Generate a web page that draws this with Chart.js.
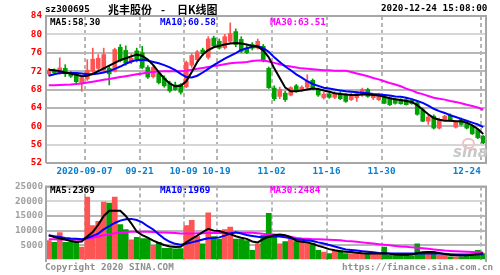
<!DOCTYPE html>
<html>
<head>
<meta charset="utf-8">
<script src="https://cdn.jsdelivr.net/npm/chart.js@4.4.1/dist/chart.umd.min.js"></script>
<style>
  body { margin: 0; width: 500px; height: 275px; overflow: hidden; background: #fff; position: relative; }
  canvas { position: absolute; left: 0; }
  .txt { position: absolute; font: bold 9.3px "DejaVu Sans Mono", monospace; line-height: 10px; white-space: pre; }
  .cjk { position: absolute; font: bold 11px "Noto Sans CJK SC", sans-serif; line-height: 12px; white-space: pre; color: #000; }
  .sina { position: absolute; font: italic bold 15px "DejaVu Sans", sans-serif; color: #c8c8c8; }
</style>
</head>
<body>
<canvas id="kline" width="500" height="180" style="top:0"></canvas>
<canvas id="volume" width="500" height="97" style="top:178px"></canvas>

<div class="txt" style="left:45px;top:4px;color:#000">sz300695</div>
<div class="cjk" style="left:108px;top:3px">兆丰股份</div>
<div class="cjk" style="left:161px;top:3px">-</div>
<div class="cjk" style="left:177px;top:3px">日K线图</div>
<div class="txt" style="left:381px;top:3px;color:#000">2020-12-24 15:08:00</div>

<div class="txt" style="left:50px;top:17px;color:#000">MA5:58.30</div>
<div class="txt" style="left:160px;top:17px;color:#0000ff">MA10:60.58</div>
<div class="txt" style="left:270px;top:17px;color:#ff00ff">MA30:63.51</div>

<div class="txt" style="left:50px;top:185px;color:#000">MA5:2369</div>
<div class="txt" style="left:160px;top:185px;color:#0000ff">MA10:1969</div>
<div class="txt" style="left:270px;top:185px;color:#ff00ff">MA30:2484</div>

<div class="sina" style="left:453px;top:143px">sina</div>
<div style="position:absolute;left:462px;top:138px;width:9px;height:7px;border:2px solid #f0c4c4;border-radius:6px"></div>

<div class="txt" style="left:45px;top:262px;color:#909090">Copyright 2020 SINA.COM</div>
<div class="txt" style="left:342px;top:262px;color:#909090">https://finance.sina.com.cn</div>

<script>
// — trading days shown on the chart —
const dates = [
  '2020-08-27','2020-08-28','2020-08-31','2020-09-01','2020-09-02','2020-09-03','2020-09-04',
  '2020-09-07','2020-09-08','2020-09-09','2020-09-10','2020-09-11','2020-09-14','2020-09-15',
  '2020-09-16','2020-09-17','2020-09-18','2020-09-21','2020-09-22','2020-09-23','2020-09-24',
  '2020-09-25','2020-09-28','2020-09-29','2020-09-30','2020-10-09','2020-10-12','2020-10-13',
  '2020-10-14','2020-10-15','2020-10-16','2020-10-19','2020-10-20','2020-10-21','2020-10-22',
  '2020-10-23','2020-10-26','2020-10-27','2020-10-28','2020-10-29','2020-10-30','2020-11-02',
  '2020-11-03','2020-11-04','2020-11-05','2020-11-06','2020-11-09','2020-11-10','2020-11-11',
  '2020-11-12','2020-11-13','2020-11-16','2020-11-17','2020-11-18','2020-11-19','2020-11-20',
  '2020-11-23','2020-11-24','2020-11-25','2020-11-26','2020-11-27','2020-11-30','2020-12-01',
  '2020-12-02','2020-12-03','2020-12-04','2020-12-07','2020-12-08','2020-12-09','2020-12-10',
  '2020-12-11','2020-12-14','2020-12-15','2020-12-16','2020-12-17','2020-12-18','2020-12-21',
  '2020-12-22','2020-12-23','2020-12-24'
];

// — daily candles —
const opens = [
  71.4,72.1,71.6,72.6,71.6,71.3,69.5,70.3,72.0,72.6,72.2,72.6,72.0,77.2,76.5,74.0,76.4,76.0,72.8,70.8,
  71.6,70.5,69.4,69.0,69.1,68.6,73.3,74.5,76.6,75.0,79.2,78.5,77.1,78.5,80.6,78.9,77.0,77.8,77.0,77.4,
  72.6,68.3,66.5,67.2,66.8,68.8,67.8,68.5,70.0,68.0,66.2,67.0,66.3,67.2,66.9,65.8,66.2,66.9,68.0,66.2,
  65.8,66.5,66.2,65.8,65.8,65.8,65.6,65.1,63.6,61.1,62.2,59.6,61.5,62.4,59.8,61.5,60.7,60.0,59.3,57.8
];
const highs = [
  72.6,72.5,74.9,73.4,71.9,71.6,71.0,74.5,77.0,75.6,77.0,73.0,77.0,77.8,77.5,75.8,77.0,77.4,73.2,73.4,
  72.0,71.0,69.8,69.6,69.3,74.2,75.8,76.5,77.0,79.5,79.6,79.0,80.0,82.5,81.2,79.5,77.6,78.2,79.0,77.8,
  72.9,68.8,68.5,67.6,68.6,69.1,68.8,71.2,70.3,68.3,67.4,67.3,67.5,67.5,67.1,67.2,67.6,68.3,68.3,67.0,
  67.2,66.8,66.4,66.0,66.0,66.2,65.8,65.3,64.0,62.4,62.5,61.8,62.4,62.7,61.2,61.8,60.9,60.3,59.5,58.0
];
const lows = [
  71.0,71.3,71.3,70.8,70.6,69.3,67.6,70.0,71.6,72.2,71.8,69.0,71.8,74.0,73.3,73.6,74.0,72.5,70.4,70.5,
  69.2,68.5,67.4,67.8,67.0,68.4,72.8,74.0,75.4,74.6,77.2,76.8,76.8,78.2,77.3,76.0,75.8,76.6,76.8,74.0,
  68.2,65.6,66.0,65.4,66.6,67.4,67.6,68.2,68.0,66.5,65.9,66.1,66.0,65.8,65.2,65.6,65.4,66.5,66.3,65.8,
  65.6,64.9,64.5,64.8,64.8,64.6,64.8,62.4,61.0,60.4,59.4,59.4,61.2,61.1,59.6,60.2,59.4,58.2,57.3,56.2
];
const closes = [
  72.2,71.7,72.7,71.4,70.9,69.7,70.6,72.2,74.6,74.8,75.6,71.4,76.7,74.3,73.8,74.8,74.6,72.8,70.7,72.8,
  69.5,68.8,67.7,68.0,67.4,73.9,75.4,76.2,75.8,79.0,77.5,77.0,79.5,80.2,77.8,76.3,76.0,77.0,78.5,74.2,
  68.4,66.0,68.0,65.8,68.4,67.6,68.5,69.8,68.3,66.8,67.0,66.3,67.1,66.0,65.4,66.8,67.1,68.0,66.5,66.9,
  67.0,65.0,64.7,65.0,64.9,64.7,64.9,62.6,61.1,62.0,59.6,61.5,62.2,61.3,60.9,60.4,59.6,58.35,57.5,56.4
];

const ma5 = [
  72.3,72.2,72.0,71.7,71.5,71.2,70.9,71.0,71.4,72.0,72.6,73.2,73.8,74.4,74.8,75.2,75.6,75.3,74.5,73.3,
  71.8,70.4,69.3,68.7,68.8,69.8,71.8,74.0,75.6,76.6,77.2,77.5,77.8,78.0,78.1,78.0,77.8,77.5,77.3,76.5,
  75.0,72.6,70.5,68.4,67.6,67.6,67.8,68.0,68.2,68.1,67.8,67.5,67.2,67.0,66.9,66.8,66.8,66.9,66.9,66.8,
  66.7,66.4,66.1,65.9,65.7,65.5,65.3,64.6,63.6,62.6,61.8,61.4,61.2,61.2,61.1,61.1,60.8,60.2,59.4,58.3
];
const ma10 = [
  71.0,71.3,71.6,71.6,71.6,71.6,71.5,71.3,71.3,71.5,71.7,72.0,72.5,73.0,73.6,74.1,74.4,74.5,74.3,74.0,
  73.7,73.3,72.8,72.2,71.4,70.7,70.6,71.0,71.7,72.5,73.3,74.0,74.7,75.3,75.9,76.6,77.0,77.3,77.4,77.0,
  76.2,75.0,74.0,73.0,72.2,71.3,70.6,69.8,69.2,68.8,68.4,68.2,68.0,67.8,67.6,67.5,67.4,67.3,67.2,67.0,
  66.9,66.8,66.7,66.5,66.4,66.2,65.9,65.5,65.1,64.5,63.8,63.3,62.9,62.4,62.0,61.6,61.2,60.8,60.4,59.8
];
const ma30 = [
  68.9,68.95,69.0,69.05,69.1,69.2,69.3,69.5,69.7,69.9,70.1,70.3,70.5,70.7,70.9,71.1,71.3,71.5,71.7,71.8,
  71.9,72.0,72.0,72.0,72.0,72.1,72.3,72.5,72.7,72.9,73.1,73.3,73.5,73.7,73.8,73.9,74.0,74.2,74.3,74.3,
  74.1,73.8,73.5,73.2,73.0,72.8,72.6,72.5,72.4,72.3,72.2,72.2,72.1,72.1,72.1,71.8,71.5,71.2,70.9,70.5,
  70.2,69.8,69.4,69.1,68.7,68.2,67.8,67.3,67.0,66.6,66.2,66.0,65.8,65.5,65.3,65.0,64.7,64.4,64.1,63.6
];

// — volume and its moving averages —
const volumes = [
  6600,6000,9300,6000,6000,6000,4400,21400,11700,13200,19700,19400,21400,12100,10400,6900,7700,7300,7300,5000,
  6000,3950,3950,3800,3900,11700,13500,8000,5500,16100,8000,7100,10400,11200,7100,7100,6600,3300,5500,8400,
  15900,8200,5500,6300,7100,6300,6600,6300,5800,3300,2700,2200,3300,3300,2200,2200,2200,2200,2200,2000,
  2000,4400,1600,1600,1600,1600,1400,5500,2700,2000,2200,1800,1600,1100,1100,1100,1600,1600,3300,2200
];
const volMa5 = [
  8400,7800,7300,7000,6500,6100,6300,8000,9500,12000,15000,16800,16800,16800,15000,12500,9700,8500,7600,6600,
  5800,5100,4600,4400,4500,6000,7200,8300,9500,10600,10000,9900,9300,8800,8100,7600,7200,6300,6000,7100,
  8000,8400,8700,8400,7800,6500,6200,6000,5500,4800,4300,3700,3300,3000,2800,2700,2500,2300,2200,2200,
  2200,2300,2100,1900,1800,1800,1900,2300,2600,2700,2700,2400,2000,1700,1600,1500,1600,1800,2000,2300
];
const volMa10 = [
  8400,8100,7800,7500,7300,7200,7100,7500,8200,9000,10400,11500,12600,13400,13900,14000,13600,12800,11500,10400,
  8800,7300,6200,5500,5200,5500,6000,6500,7000,7400,7500,7700,8300,9000,9400,9000,8500,8200,7900,7700,
  7800,8000,8000,7700,7400,7100,6900,6700,6500,6000,5600,5100,4600,4100,3600,3400,3200,3000,2800,2600,
  2400,2300,2200,2200,2200,2200,2200,2200,2200,2200,2200,2200,2100,2000,1900,1900,1900,1900,1900,1970
];
const volMa30 = [
  7100,7050,7000,6950,6900,6900,6900,7200,7600,8000,8400,8800,9100,9300,9500,9600,9650,9650,9600,9500,
  9400,9350,9300,9200,9000,9000,9050,9100,9150,9200,9200,9200,9200,9250,9300,9300,9300,9300,9100,8900,
  8800,8700,8400,8100,7900,7500,7300,7200,7100,7100,7000,6900,6800,6700,6500,6400,6200,6000,5800,5600,
  5400,5200,5000,4800,4600,4500,4300,4200,4000,3800,3600,3400,3200,3100,3000,2900,2800,2700,2600,2500
];

// — date ticks (dashed lines) and their labels —
const tickDates  = ['2020-09-07','2020-09-21','2020-10-09','2020-10-19','2020-11-02','2020-11-16','2020-11-30','2020-12-24'];
const tickLabels = ['2020-09-07','09-21','10-09','10-19','11-02','11-16','11-30','12-24'];

const RED = '#ff5454';
const GREEN = '#00a000';
const GRID = '#b6b6b6';
const FRAME = '#a6a6a6';

const candleColors = closes.map((c, i) => (c >= opens[i] ? RED : GREEN));

Chart.defaults.font.family = '"DejaVu Sans Mono", monospace';
Chart.defaults.font.weight = 'bold';
Chart.defaults.font.size = 9.3;
Chart.defaults.animation = false;

// gray frame around the plot area
const framePlugin = {
  id: 'frame',
  afterDraw(chart, args, opts) {
    const { ctx, chartArea: a } = chart;
    ctx.save();
    ctx.strokeStyle = FRAME;
    ctx.lineWidth = 2;
    ctx.beginPath();
    ctx.moveTo(a.left, opts.bottom ? a.bottom : a.bottom + 2);
    ctx.lineTo(a.left, a.top);
    ctx.lineTo(a.right, a.top);
    ctx.lineTo(a.right, opts.bottom ? a.bottom : a.bottom + 2);
    if (opts.bottom) ctx.lineTo(a.left, a.bottom);
    ctx.stroke();
    ctx.restore();
  }
};

/**
 * Shared x axis: one unit per trading day, dashed lines between days
 * at each marked date. The last label sits left of its line.
 */
function make_x_axis(showLabels, height) {
  return {
    type: 'linear',
    offset: false,
    min: -0.5,
    max: dates.length - 0.5,
    border: { display: false, dash: [4, 3] },
    grid: {
      offset: false,
      drawTicks: false,
      lineWidth: 2,
      color: ctx => (ctx.tick && ctx.tick.labelOnly ? 'rgba(0,0,0,0)' : GRID)
    },
    afterBuildTicks(axis) {
      const ticks = tickDates.map((d, k) => ({
        value: dates.indexOf(d) - 0.5,
        text: k < tickDates.length - 1 ? tickLabels[k] : ''
      }));
      const last = ticks[ticks.length - 1];
      ticks.splice(ticks.length - 1, 0, { value: last.value - 2.5, text: tickLabels[tickLabels.length - 1], labelOnly: true });
      axis.ticks = ticks;
    },
    afterFit(axis) { axis.height = height; },
    ticks: {
      display: showLabels,
      autoSkip: false,
      maxRotation: 0,
      padding: 3,
      color: '#0a80d0',
      callback: (v, i, ticks) => ticks[i].text || ''
    }
  };
}

function line_ds(data, color, order) {
  return {
    type: 'line',
    data: data.map((v, i) => ({ x: i, y: v })),
    borderColor: color,
    borderWidth: 2,
    pointRadius: 0,
    tension: 0,
    order: order
  };
}

function render_kline() {
  const ctx = document.getElementById('kline').getContext('2d');
  new Chart(ctx, {
    type: 'bar',
    data: {
      datasets: [
        line_ds(ma5, '#000000', 0),
        line_ds(ma10, '#0000ff', 1),
        line_ds(ma30, '#ff00ff', 2),
        {
          // candle bodies
          data: opens.map((o, i) => ({ x: i, y: [o, closes[i]] })),
          backgroundColor: candleColors,
          barThickness: 4,
          minBarLength: 1,
          grouped: false,
          order: 3
        },
        {
          // high-low wicks
          data: lows.map((l, i) => ({ x: i, y: [l, highs[i]] })),
          backgroundColor: candleColors,
          barThickness: 1,
          grouped: false,
          order: 4
        }
      ]
    },
    options: {
      responsive: false,
      devicePixelRatio: 1,
      layout: { padding: { top: 16, right: 14, left: 0, bottom: 0 } },
      plugins: { legend: { display: false }, tooltip: { enabled: false }, frame: { bottom: true } },
      scales: {
        x: make_x_axis(true, 17),
        y: {
          min: 52,
          max: 84,
          border: { display: false },
          grid: {
            drawTicks: false,
            lineWidth: 2,
            color: c => ([80, 56].includes(c.tick.value) ? '#d6d6d6' : GRID)
          },
          afterFit(axis) { axis.width = 46; },
          ticks: { stepSize: 4, padding: 4, color: '#ff0000' }
        }
      }
    },
    plugins: [framePlugin]
  });
}

function render_volume() {
  const ctx = document.getElementById('volume').getContext('2d');
  new Chart(ctx, {
    type: 'bar',
    data: {
      datasets: [
        line_ds(volMa5, '#000000', 0),
        line_ds(volMa10, '#0000ff', 1),
        line_ds(volMa30, '#ff00ff', 2),
        {
          data: volumes.map((v, i) => ({ x: i, y: v })),
          backgroundColor: candleColors,
          barThickness: 5,
          grouped: false,
          order: 3
        }
      ]
    },
    options: {
      responsive: false,
      devicePixelRatio: 1,
      layout: { padding: { top: 7, right: 14, left: 0, bottom: 0 } },
      plugins: { legend: { display: false }, tooltip: { enabled: false }, frame: { bottom: false } },
      scales: {
        x: make_x_axis(false, 15),
        y: {
          min: 0,
          max: 25000,
          border: { display: false },
          grid: {
            drawTicks: false,
            lineWidth: 2,
            color: c => (c.tick.value === 0 ? 'rgba(0,0,0,0)' : c.tick.value === 20000 ? '#d6d6d6' : GRID)
          },
          afterFit(axis) { axis.width = 46; },
          ticks: {
            stepSize: 5000,
            padding: 3,
            color: '#a0a0a0',
            callback: v => (v === 0 ? '' : v)
          }
        }
      }
    },
    plugins: [framePlugin]
  });
}

document.addEventListener('DOMContentLoaded', () => {
  render_kline();
  render_volume();
});
</script>
</body>
</html>
